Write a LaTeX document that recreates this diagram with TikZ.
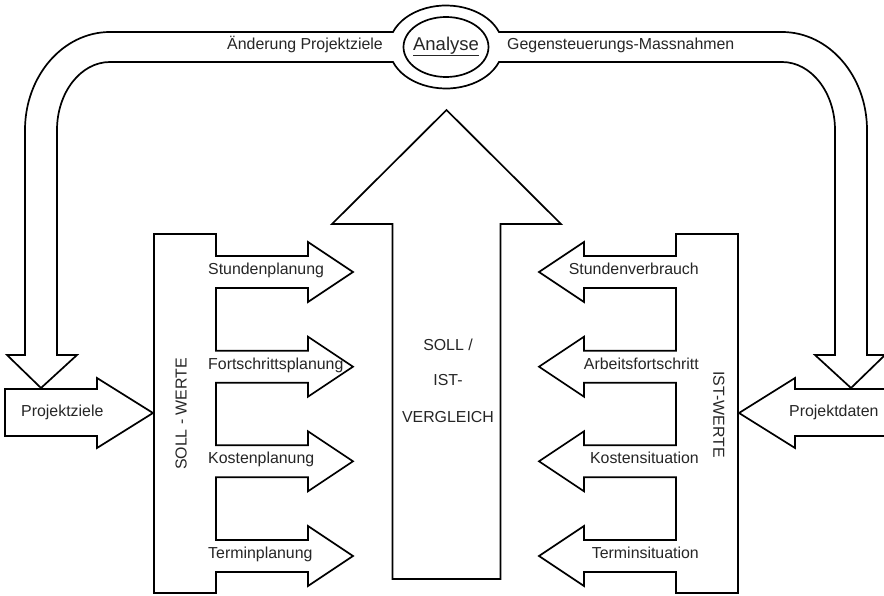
\documentclass[tikz,border=0pt]{standalone}
\usepackage{fontspec}
\setmainfont{Liberation Sans}
\begin{document}
\begin{tikzpicture}[x=1pt,y=1pt,
  outl/.style={draw=black,line width=1.7pt,line join=miter},
  lbl/.style={inner sep=0pt,text=black!85,font=\fontsize{15.9}{19}\selectfont},
]
\useasboundingbox (0,0) rectangle (884,-596);
\fill[white] (0,0) rectangle (884,-596);

% feedback loop with the two down arrows and the Analyse bulge
\draw[outl] (41,-388) -- (77,-355) -- (57,-355) -- (57,-130)
  .. controls (57,-92.5) and (80.7,-62) .. (110,-62) -- (393,-62)
  arc[start angle=201.19, end angle=338.81, x radius=56.84pt, y radius=41.5pt]
  -- (782,-62) .. controls (811.3,-62) and (835,-92.5) .. (835,-130)
  -- (835,-355) -- (815,-355) -- (851,-388) -- (885,-355) -- (867,-355)
  -- (867,-130) .. controls (867,-76) and (829,-32) .. (782,-32) -- (499,-32)
  arc[start angle=21.19, end angle=158.81, x radius=56.84pt, y radius=41.5pt]
  -- (110,-32) .. controls (63,-32) and (25,-76) .. (25,-130)
  -- (25,-355) -- (7,-355) -- cycle;
\draw[outl] (446,-47) ellipse[x radius=42.5pt, y radius=30pt];

% input arrows
\draw[outl] (5,-389) -- (97,-389) -- (97,-378) -- (153,-413) -- (97,-448)
  -- (97,-436) -- (5,-436) -- cycle;
\draw[outl] (887,-389) -- (795,-389) -- (795,-378) -- (739,-413) -- (795,-448)
  -- (795,-436) -- (887,-436) -- cycle;

% SOLL-WERTE comb
\draw[outl] (154,-234) -- (216,-234)
  -- (216,-256) -- (308,-256) -- (308,-242) -- (353,-272) -- (308,-302) -- (308,-288) -- (216,-288)
  -- (216,-350.7) -- (308,-350.7) -- (308,-336.7) -- (353,-366.7) -- (308,-396.7) -- (308,-382.7) -- (216,-382.7)
  -- (216,-445.3) -- (308,-445.3) -- (308,-431.3) -- (353,-461.3) -- (308,-491.3) -- (308,-477.3) -- (216,-477.3)
  -- (216,-540) -- (308,-540) -- (308,-526) -- (353,-556) -- (308,-586) -- (308,-572) -- (216,-572)
  -- (216,-593) -- (154,-593) -- cycle;

% IST-WERTE comb
\draw[outl] (738,-234) -- (676,-234)
  -- (676,-256) -- (584,-256) -- (584,-242) -- (539,-272) -- (584,-302) -- (584,-288) -- (676,-288)
  -- (676,-350.7) -- (584,-350.7) -- (584,-336.7) -- (539,-366.7) -- (584,-396.7) -- (584,-382.7) -- (676,-382.7)
  -- (676,-445.3) -- (584,-445.3) -- (584,-431.3) -- (539,-461.3) -- (584,-491.3) -- (584,-477.3) -- (676,-477.3)
  -- (676,-540) -- (584,-540) -- (584,-526) -- (539,-556) -- (584,-586) -- (584,-572) -- (676,-572)
  -- (676,-593) -- (738,-593) -- cycle;

% central comparison arrow
\draw[outl] (392.5,-579) -- (392.5,-224) -- (332,-224) -- (446.5,-110)
  -- (561,-224) -- (500.5,-224) -- (500.5,-579) -- cycle;

% labels
\node[lbl,anchor=mid east] (aend) at (383,-47) {Änderung Projektziele};
\node[lbl,anchor=mid,font=\fontsize{18.5}{22}\selectfont] (ana) at (446,-47.5) {\underline{Analyse}};
\node[lbl,anchor=mid west] (gegen) at (507,-47) {Gegensteuerungs-Massnahmen};

\node[lbl,anchor=mid west] (pz) at (21,-413.5) {Projektziele};
\node[lbl,anchor=mid west] (pd) at (789,-414) {Projektdaten};

\node[lbl,anchor=mid west] (s1) at (208,-272) {Stundenplanung};
\node[lbl,anchor=mid west] (s2) at (208,-366.7) {Fortschrittsplanung};
\node[lbl,anchor=mid west] (s3) at (208,-461.3) {Kostenplanung};
\node[lbl,anchor=mid west] (s4) at (208,-556) {Terminplanung};

\node[lbl,anchor=mid east] (i1) at (699,-272) {Stundenverbrauch};
\node[lbl,anchor=mid east] (i2) at (699,-366.7) {Arbeitsfortschritt};
\node[lbl,anchor=mid east] (i3) at (699,-461.3) {Kostensituation};
\node[lbl,anchor=mid east] (i4) at (699,-556) {Terminsituation};

\node[lbl,anchor=mid,rotate=90] (sw) at (184,-414) {SOLL - WERTE};
\node[lbl,anchor=mid,rotate=-90] (iw) at (716,-414.5) {IST-WERTE};

\node[lbl,anchor=mid] (c1) at (448,-348) {SOLL /};
\node[lbl,anchor=mid] (c2) at (448,-383) {IST-};
\node[lbl,anchor=mid] (c3) at (448,-420) {VERGLEICH};
\end{tikzpicture}
\end{document}
